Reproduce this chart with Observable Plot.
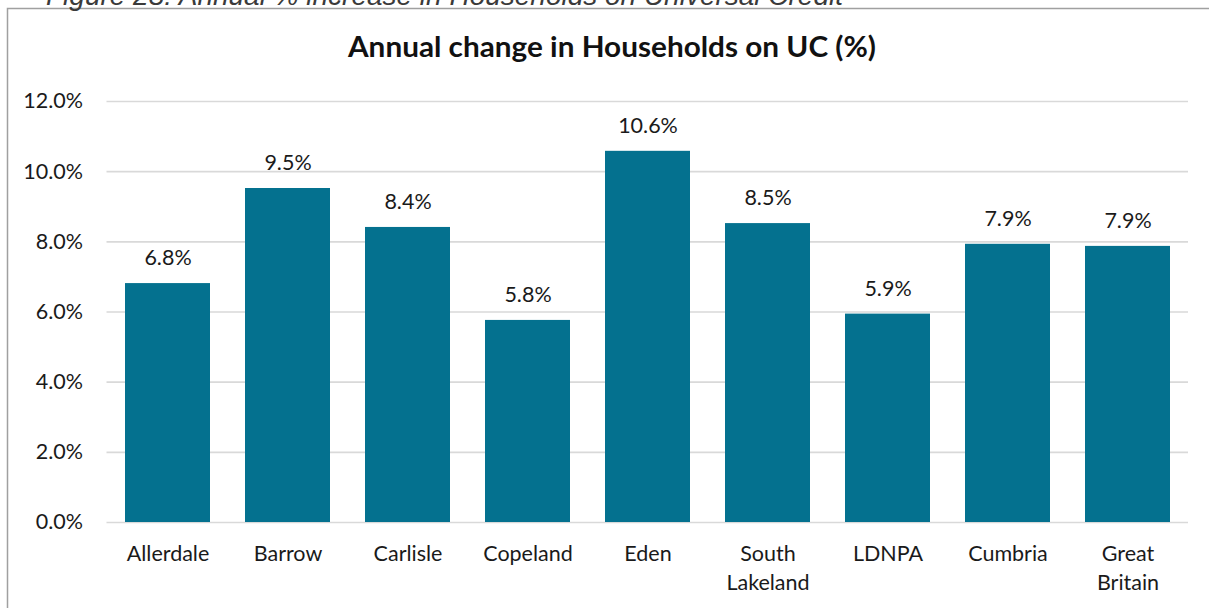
<!DOCTYPE html>
<html>
<head>
<meta charset="utf-8">
<script src="https://cdn.jsdelivr.net/npm/d3@7"></script>
<script src="https://cdn.jsdelivr.net/npm/@observablehq/plot@0.6"></script>
<style>
  html, body { margin: 0; padding: 0; background: #fff; }
  #wrap { position: relative; width: 1209px; height: 608px; overflow: hidden; background: #fff; }
  #chart { position: absolute; left: 0; top: 0; }
  .ov { position: absolute; left: 0; top: 0; pointer-events: none; }
</style>
</head>
<body>
<div id="wrap">
  <div id="chart"></div>
  <svg class="ov" width="1209" height="608" id="overlay"></svg>
</div>
<script>
// ---- data ----
const categories = ["Allerdale", "Barrow", "Carlisle", "Copeland", "Eden", "South Lakeland", "LDNPA", "Cumbria", "Great Britain"];
const tickLabels = ["Allerdale", "Barrow", "Carlisle", "Copeland", "Eden", "South\nLakeland", "LDNPA", "Cumbria", "Great\nBritain"];
const values = [6.81, 9.52, 8.41, 5.76, 10.58, 8.52, 5.94, 7.93, 7.87];
const yTicks = [0, 2, 4, 6, 8, 10, 12];
const titleText = "Annual change in Households on UC (%)";
const captionText = "Figure 28: Annual % increase in Households on Universal Credit";

const data = categories.map((c, i) => ({category: c, value: values[i]}));
const labelOf = new Map(categories.map((c, i) => [c, tickLabels[i]]));
const fmt = v => v.toFixed(1) + "%";
const FONT = "Lato, 'Open Sans', sans-serif";
const FS = 21.5;

const chart = Plot.plot({
  width: 1209,
  height: 608,
  marginTop: 101,
  marginBottom: 86,
  marginLeft: 106.5,
  marginRight: 21,
  style: {fontFamily: FONT, fontSize: FS + "px", color: "#1a1a1a", background: "transparent"},
  x: {domain: categories, paddingInner: 0.29, paddingOuter: 0.146, label: null},
  y: {domain: [0, 12], label: null},
  marks: [
    Plot.ruleY(yTicks, {stroke: "#d9d9d9", strokeWidth: 1.6}),
    Plot.barY(data, {x: "category", y: "value", fill: "#04718f"}),
    Plot.text(data, {x: "category", y: "value", text: d => fmt(d.value), dy: -25, lineAnchor: "middle", fill: "#1a1a1a", fontSize: FS}),
    Plot.axisY({ticks: yTicks, tickSize: 0, tickPadding: 24, tickFormat: fmt, fontSize: FS, fill: "#1a1a1a"}),
    Plot.axisX({tickSize: 0, tickPadding: 18, tickFormat: c => labelOf.get(c), lineHeight: 29 / FS, fontSize: FS, fill: "#1a1a1a"})
  ]
});
document.getElementById("chart").appendChild(chart);

// ---- overlays: border, caption, title ----
const ov = d3.select("#overlay");
ov.append("path")
  .attr("d", "M7.5,608 L7.5,8.5 L1209,8.5")
  .attr("fill", "none").attr("stroke", "#a0a0a0").attr("stroke-width", 1.5);
ov.append("text")
  .attr("x", 46).attr("y", 4.5)
  .attr("textLength", 797).attr("lengthAdjust", "spacingAndGlyphs")
  .attr("font-family", "'Liberation Sans', Arial, sans-serif")
  .attr("font-style", "italic").attr("font-size", 27)
  .attr("fill", "#3a3a3a")
  .text(captionText);
ov.append("text")
  .attr("x", 348).attr("y", 57)
  .attr("textLength", 528).attr("lengthAdjust", "spacingAndGlyphs")
  .attr("font-family", FONT)
  .attr("font-weight", "bold").attr("font-size", 28)
  .attr("fill", "#111")
  .text(titleText);
</script>
</body>
</html>
